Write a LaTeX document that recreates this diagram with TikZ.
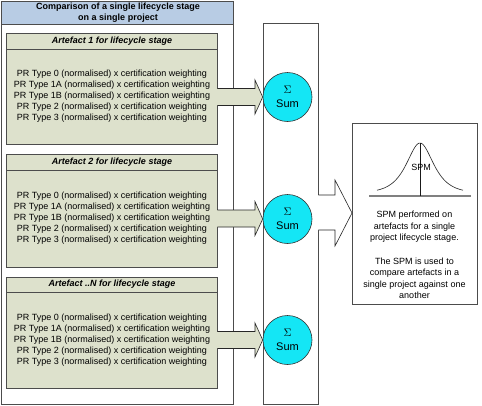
\documentclass[tikz,border=0pt]{standalone}
\usepackage{fontspec}
\setmainfont{Liberation Sans}
\begin{document}
\begin{tikzpicture}[x=1pt,y=-1pt,
  every node/.style={font=\fontsize{9}{11}\selectfont, inner sep=0pt},
  frame/.style={draw=black!70, line width=0.8pt},
  artbox/.style={frame, fill=artfill, minimum width=211pt, anchor=north west},
  arttitle/.style={font=\fontsize{9}{11}\selectfont\bfseries\itshape, anchor=center},
  prlines/.style={align=center, anchor=center},
  sumcircle/.style={circle, draw=black!80, line width=0.6pt, fill=sumcyan, minimum size=49pt},
  sumtext/.style={font=\fontsize{11}{12}\selectfont, anchor=center},
  fatarrow/.style={draw=black!85, line width=0.6pt},
]
\definecolor{artfill}{HTML}{DDE1CC}
\definecolor{headblue}{HTML}{B8CCE4}
\definecolor{sumcyan}{HTML}{14E6F5}
\useasboundingbox (0,0) rectangle (482,405);
\fill[white] (0,0) rectangle (482,405);

% left container
\node[frame, minimum width=232.5pt, minimum height=403.5pt, anchor=north west] (cont) at (0.5,0.5) {};
\node[frame, fill=headblue, minimum width=232.5pt, minimum height=23.5pt, anchor=north west] (head) at (0.5,0.5) {};
\node[align=center, font=\fontsize{9}{10.5}\selectfont\bfseries, anchor=center] (headtxt) at (118,12.5) {Comparison of a single lifecycle stage\\on a single project};

% sum column
\node[frame, minimum width=55pt, minimum height=381pt, anchor=north west] (col) at (263,23) {};

\newcommand{\prtext}{PR Type 0 (normalised) x certification weighting\\
PR Type 1A (normalised) x certification weighting\\
PR Type 1B (normalised) x certification weighting\\
PR Type 2 (normalised) x certification weighting\\
PR Type 3 (normalised) x certification weighting}

% artefact 1
\node[artbox, minimum height=111pt] (art1) at (6,33) {};
\draw[frame] (6,49) -- (217,49);
\node[arttitle] (artt1) at (112,41) {Artefact 1 for lifecycle stage};
\node[prlines] (artl1) at (112,96.5) {\prtext};
% artefact 2
\node[artbox, minimum height=113pt] (art2) at (6,154) {};
\draw[frame] (6,170) -- (217,170);
\node[arttitle] (artt2) at (112,162) {Artefact 2 for lifecycle stage};
\node[prlines] (artl2) at (112,218.5) {\prtext};
% artefact N
\node[artbox, minimum height=111pt] (art3) at (6,277) {};
\draw[frame] (6,292) -- (217,292);
\node[arttitle] (artt3) at (112,284.5) {Artefact ..N for lifecycle stage};
\node[prlines] (artl3) at (112,340) {\prtext};

% sum circles
\node[sumcircle] (sum1) at (287.5,97) {};
\node[sumcircle] (sum2) at (287.5,219) {};
\node[sumcircle] (sum3) at (287.5,340) {};
\node[sumtext] at (287.5,90) {$\Sigma$};
\node[sumtext] at (287.5,104) {Sum};
\node[sumtext] at (287.5,212) {$\Sigma$};
\node[sumtext] at (287.5,226) {Sum};
\node[sumtext] at (287.5,333) {$\Sigma$};
\node[sumtext] at (287.5,347) {Sum};

% fat arrows from artefacts to sums
\foreach \s/\c in {1/97,2/218.5,3/340}{
  \fill[artfill] (216,\c-8.5) -- (255,\c-8.5) -- (255,\c-17) -- (sum\s.west) -- (255,\c+17) -- (255,\c+8.5) -- (216,\c+8.5) -- cycle;
  \draw[fatarrow] (217.4,\c-8.5) -- (255,\c-8.5) -- (255,\c-17) -- (sum\s.west) -- (255,\c+17) -- (255,\c+8.5) -- (217.4,\c+8.5);
}

% SPM box
\node[frame, minimum width=125pt, minimum height=181pt, anchor=north west] (spm) at (352,123) {};
\coordinate (tip) at (spm.west |- 0,213);
\fill[white] (318,195) -- (335,195) -- (335,180) -- (tip) -- (335,246) -- (335,230) -- (318,230) -- cycle;
\draw[fatarrow] (318.4,195) -- (335,195) -- (335,180) -- (tip) -- (335,246) -- (335,230) -- (318.4,230);

% bell curve
\draw[black!50, line width=1.2pt] (369,196) -- (471,196);
\draw[black!85, line width=0.6pt] plot[domain=-43:43, samples=90, smooth] ({420+\x}, {193-50/cosh(\x/12)});
\draw[black!90, line width=0.7pt] (420,143) -- (420,196);
\node (spmlab) at (421,167) {SPM};
\node[align=center, font=\fontsize{9}{11.6}\selectfont] (spmtxt) at (414.5,255) {SPM performed on\\artefacts for a single\\project lifecycle stage.\\[11.6pt]The SPM is used to\\compare artefacts in a\\single project against one\\another};
\end{tikzpicture}
\end{document}
